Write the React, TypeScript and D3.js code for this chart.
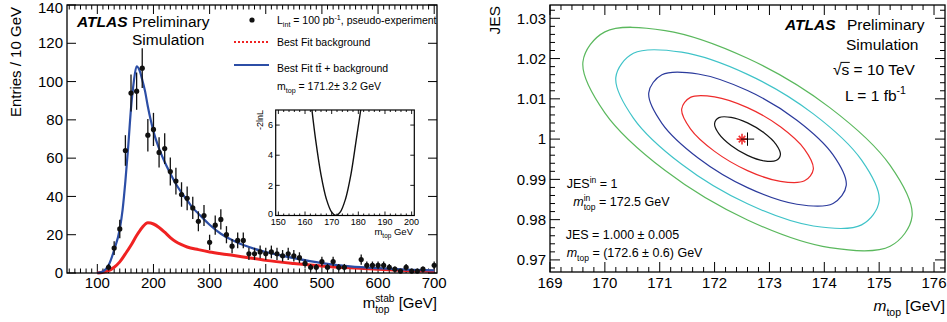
import React, { useRef, useEffect } from "react";
import * as d3 from "d3";

const W = 947;
const H = 322;
const FONT = "'Liberation Sans', Arial, Helvetica, sans-serif";

// ---- left panel: pseudo-experiment m_top^stab distribution
const binCenters = [120, 130, 140, 150, 160, 170, 180, 190, 200, 210, 220, 230, 240, 250, 260, 270, 280, 290, 300, 310, 320, 330, 340, 350, 360, 370, 380, 390, 400, 410, 420, 430, 440, 450, 460, 470, 480, 490, 500, 510, 520, 530, 540, 570, 580, 590, 600, 610, 620, 630, 640, 650, 660, 670, 680, 700];
const binCounts = [3, 13, 23, 64, 94, 95, 107, 72, 75, 63, 65, 53, 48, 41, 39, 34, 27, 30, 16, 25, 28, 20, 14, 17, 17, 10, 10, 11, 10, 11, 10, 9, 10, 9, 8, 5, 3, 3, 6, 3, 6, 3, 3, 7, 4, 4, 4, 4, 3, 2, 1, 3, 1, 1, 2, 4];

const totalFitMass = [100, 110, 120, 130, 140, 145, 150, 155, 160, 165, 170, 175, 180, 185, 190, 195, 200, 210, 220, 230, 240, 250, 260, 270, 280, 290, 300, 320, 340, 360, 380, 400, 420, 450, 500, 550, 600, 650, 700];
const totalFitEntries = [0, 0.8, 4, 12, 23, 33, 48, 66, 86, 100, 108, 106, 101, 95, 87, 80, 74, 65, 58, 52, 46.5, 42, 38, 34, 31, 28, 25.2, 20.5, 17.2, 14.6, 12.6, 11, 9.6, 7.8, 5.2, 3.5, 2.5, 1.8, 1.4];

const bgFitMass = [100, 110, 120, 130, 140, 150, 160, 170, 180, 190, 200, 210, 220, 230, 240, 250, 260, 280, 300, 330, 360, 400, 450, 500, 550, 600, 650, 700];
const bgFitEntries = [0, 0.4, 1.2, 3, 5.8, 10, 14.5, 19.6, 23.8, 26.2, 25.6, 23.8, 21.3, 18.5, 16.3, 14.8, 13.6, 12.2, 11, 9.7, 8.4, 6.6, 5, 3.7, 2.7, 1.9, 1.3, 0.9];

const massTicks = [100, 200, 300, 400, 500, 600, 700];
const entriesTicks = [0, 20, 40, 60, 80, 100, 120, 140];

// ---- inset: likelihood scan
const scanMass = [162.6, 164, 166, 168, 170, 171.6, 173.2, 175.2, 177.2, 179.2, 180.9];
const scanNll = [7.0, 5.0, 2.7, 1.1, 0.22, 0, 0.22, 1.1, 2.7, 5.0, 7.0];
const scanMassTicks = [150, 160, 170, 180, 190, 200];
const scanNllTicks = [0, 2, 4, 6];

// ---- right panel: JES vs m_top contours (inner to outer)
const contourColors = ["#151515", "#ee2b2b", "#2b3a9c", "#3fc3c8", "#5ab85d"];
const contour1Mass = [173.2, 173.12, 172.9, 172.6, 172.3, 172.08, 172.0, 172.08, 172.3, 172.6, 172.9, 173.12];
const contour1Jes = [0.99616, 0.99467, 0.9946, 0.99597, 0.99843, 1.00131, 1.00384, 1.00533, 1.0054, 1.00403, 1.00157, 0.99869];
const contour2Mass = [173.8, 173.64, 173.2, 172.6, 172.0, 171.56, 171.4, 171.56, 172.0, 172.6, 173.2, 173.64];
const contour2Jes = [0.99255, 0.98964, 0.9895, 0.99218, 0.99695, 1.00254, 1.00745, 1.01036, 1.0105, 1.00782, 1.00305, 0.99746];
const contour3Mass = [174.4, 174.16, 173.5, 172.6, 171.7, 171.04, 170.8, 171.04, 171.7, 172.6, 173.5, 174.16];
const contour3Jes = [0.98852, 0.98403, 0.98383, 0.98795, 0.99531, 1.00392, 1.01148, 1.01597, 1.01617, 1.01205, 1.00469, 0.99608];
const contour4Mass = [175.0, 174.68, 173.8, 172.6, 171.4, 170.52, 170.2, 170.52, 171.4, 172.6, 173.8, 174.68];
const contour4Jes = [0.98468, 0.9787, 0.97842, 0.98393, 0.99374, 1.00523, 1.01532, 1.0213, 1.02158, 1.01607, 1.00626, 0.99477];
const contour5Mass = [175.6, 175.2, 174.1, 172.6, 171.1, 170.0, 169.6, 170.0, 171.1, 172.6, 174.1, 175.2];
const contour5Jes = [0.98086, 0.97338, 0.97304, 0.97992, 0.99218, 1.00653, 1.01914, 1.02662, 1.02696, 1.02008, 1.00782, 0.99347];
const inputPoint = [172.5, 1.0];
const fittedPoint = [172.6, 1.0];

const topMassTicks = [169, 170, 171, 172, 173, 174, 175, 176];
const jesTicks = [0.97, 0.98, 0.99, 1.0, 1.01, 1.02, 1.03];
const jesTickLabels = ["0.97", "0.98", "0.99", "1", "1.01", "1.02", "1.03"];

// text with sub/superscripts; parts are strings or {sub, sup, it}
function rich(parent, x, y, size, parts, anchor = "start") {
  const text = parent
    .append("text")
    .attr("x", x)
    .attr("y", y)
    .attr("font-size", size)
    .attr("font-family", FONT)
    .attr("text-anchor", anchor)
    .style("white-space", "pre");
  const small = size * 0.68;
  let base = 0;
  let pending = 0;
  const put = (s, off, fs, dx = 0) => {
    const ts = text.append("tspan").text(s).attr("dy", off - base).attr("font-size", fs);
    if (dx + pending !== 0) ts.attr("dx", dx + pending);
    pending = 0;
    base = off;
    return ts;
  };
  parts.forEach((p) => {
    if (typeof p === "string") put(p, 0, size);
    else if (p.it) put(p.it, 0, size).attr("font-style", "italic");
    else if (p.sub && p.sup) {
      const a = put(p.sup, -size * 0.4, small);
      const wa = a.node().getComputedTextLength();
      const b = put(p.sub, size * 0.32, small, -wa);
      const wb = b.node().getComputedTextLength();
      pending = Math.max(0, wa - wb);
    } else if (p.sub) put(p.sub, size * 0.32, small);
    else if (p.sup) put(p.sup, -size * 0.4, small);
  });
  return text;
}

function frameTicks(g, f, xs, xvals, xlen, ys, yvals, ylen) {
  xvals.forEach((v) => {
    const x = xs(v);
    g.append("line").attr("x1", x).attr("x2", x).attr("y1", f.y1).attr("y2", f.y1 - xlen);
    g.append("line").attr("x1", x).attr("x2", x).attr("y1", f.y0).attr("y2", f.y0 + xlen);
  });
  yvals.forEach((v) => {
    const y = ys(v);
    g.append("line").attr("x1", f.x0).attr("x2", f.x0 + ylen).attr("y1", y).attr("y2", y);
    g.append("line").attr("x1", f.x1).attr("x2", f.x1 - ylen).attr("y1", y).attr("y2", y);
  });
}

const App = () => {
  const ref = useRef(null);

  useEffect(() => {
    const svg = d3.select(ref.current);
    svg.selectAll("*").remove();

    // ================= LEFT PANEL =================
    const L = { x0: 67, x1: 437, y0: 5, y1: 273 };
    const lx = d3.scaleLinear().domain([46, 705]).range([L.x0, L.x1]);
    const ly = d3.scaleLinear().domain([0, 140]).range([L.y1, L.y0]);
    const left = svg.append("g");

    const lt = left.append("g").attr("stroke", "#000").attr("stroke-width", 1);
    frameTicks(lt, L, lx, massTicks, 9, ly, entriesTicks, 9);
    const minorMass = d3.range(50, 701, 10).filter((v) => v % 100 !== 0);
    frameTicks(lt, L, lx, minorMass, 4.5, ly, [], 0);

    left.append("g").selectAll("text").data(massTicks).join("text")
      .attr("x", (d) => lx(d)).attr("y", 288).attr("text-anchor", "middle")
      .attr("font-family", FONT).attr("font-size", 15).text((d) => d);
    left.append("g").selectAll("text").data(entriesTicks).join("text")
      .attr("x", 63).attr("y", (d) => Math.max(ly(d) + 5.2, 13)).attr("text-anchor", "end")
      .attr("font-family", FONT).attr("font-size", 15).text((d) => d);

    left.append("text")
      .attr("transform", "translate(20.5,7) rotate(-90)")
      .attr("text-anchor", "end").attr("font-family", FONT).attr("font-size", 15)
      .text("Entries / 10 GeV");
    rich(left, 437, 308, 15, ["m", { sup: "stab", sub: "top" }, " [GeV]"], "end");

    const curve = (xsArr, ysArr) =>
      d3.line().x((i) => lx(xsArr[i])).y((i) => ly(ysArr[i])).curve(d3.curveMonotoneX)(d3.range(xsArr.length));

    left.append("path").attr("d", curve(bgFitMass, bgFitEntries))
      .attr("fill", "none").attr("stroke", "#f02222").attr("stroke-width", 3);
    left.append("path").attr("d", curve(totalFitMass, totalFitEntries))
      .attr("fill", "none").attr("stroke", "#2c4ea6").attr("stroke-width", 2.2);

    const pts = left.append("g");
    binCenters.forEach((m, i) => {
      const n = binCounts[i];
      const e = Math.sqrt(n);
      pts.append("line").attr("x1", lx(m)).attr("x2", lx(m))
        .attr("y1", ly(Math.min(140, n + e))).attr("y2", ly(Math.max(0, n - e)))
        .attr("stroke", "#111").attr("stroke-width", 1.3);
      pts.append("circle").attr("cx", lx(m)).attr("cy", ly(n)).attr("r", 2.6).attr("fill", "#111");
    });

    left.append("rect").attr("x", L.x0).attr("y", L.y0).attr("width", L.x1 - L.x0).attr("height", L.y1 - L.y0)
      .attr("fill", "none").attr("stroke", "#000").attr("stroke-width", 1.3);

    // ATLAS label
    left.append("text").attr("x", 77).attr("y", 27).attr("font-family", FONT).attr("font-size", 15.5)
      .attr("font-weight", "bold").attr("font-style", "italic").text("ATLAS");
    left.append("text").attr("x", 132).attr("y", 27).attr("font-family", FONT).attr("font-size", 15.5).text("Preliminary");
    left.append("text").attr("x", 132).attr("y", 45).attr("font-family", FONT).attr("font-size", 15.5).text("Simulation");

    // legend
    const lg = left.append("g");
    lg.append("circle").attr("cx", 252).attr("cy", 20).attr("r", 2.6).attr("fill", "#111");
    rich(lg, 277, 24, 10.5, ["L", { sub: "int" }, " = 100 pb", { sup: "-1" }, ", pseudo-experiment"]);
    lg.append("line").attr("x1", 234).attr("x2", 269).attr("y1", 42).attr("y2", 42)
      .attr("stroke", "#f02222").attr("stroke-width", 2).attr("stroke-dasharray", "2,2");
    rich(lg, 277, 46, 10.5, ["Best Fit background"]);
    lg.append("line").attr("x1", 234).attr("x2", 269).attr("y1", 65).attr("y2", 65)
      .attr("stroke", "#2c4ea6").attr("stroke-width", 2);
    rich(lg, 277, 72, 10.5, ["Best Fit t", "t\u0304", " + background"]);
    rich(lg, 277, 90, 10.5, ["m", { sub: "top" }, " = 171.2\u00b1 3.2 GeV"]);

    // ================= INSET =================
    const I = { x0: 275.7, x1: 414.3, y0: 110, y1: 215.5 };
    const ix = d3.scaleLinear().domain([149, 201]).range([I.x0, I.x1]);
    const iy = d3.scaleLinear().domain([0, 7]).range([I.y1, I.y0]);
    const inset = svg.append("g");
    inset.append("rect").attr("x", I.x0).attr("y", I.y0).attr("width", I.x1 - I.x0).attr("height", I.y1 - I.y0)
      .attr("fill", "#fff");
    const it = inset.append("g").attr("stroke", "#000").attr("stroke-width", 0.9);
    frameTicks(it, I, ix, scanMassTicks, 4, iy, scanNllTicks, 4);
    frameTicks(it, I, ix, d3.range(152, 200, 2).filter((v) => v % 10 !== 0), 2, iy, [], 0);

    inset.append("clipPath").attr("id", "insetClip").append("rect")
      .attr("x", I.x0).attr("y", I.y0).attr("width", I.x1 - I.x0).attr("height", I.y1 - I.y0);
    inset.append("path")
      .attr("d", d3.line().x((i) => ix(scanMass[i])).y((i) => iy(scanNll[i])).curve(d3.curveCatmullRom)(d3.range(scanMass.length)))
      .attr("clip-path", "url(#insetClip)")
      .attr("fill", "none").attr("stroke", "#111").attr("stroke-width", 1.4);
    inset.append("rect").attr("x", I.x0).attr("y", I.y0).attr("width", I.x1 - I.x0).attr("height", I.y1 - I.y0)
      .attr("fill", "none").attr("stroke", "#000").attr("stroke-width", 1.2);

    inset.append("g").selectAll("text").data(scanMassTicks).join("text")
      .attr("x", (d) => ix(d)).attr("y", 225).attr("text-anchor", "middle")
      .attr("font-family", FONT).attr("font-size", 9).text((d) => d);
    inset.append("g").selectAll("text").data(scanNllTicks).join("text")
      .attr("x", 273).attr("y", (d) => iy(d) + (d === 0 ? 1.5 : 3.2)).attr("text-anchor", "end")
      .attr("font-family", FONT).attr("font-size", 9).text((d) => d);
    rich(inset, 413, 234.5, 9.5, ["m", { sub: "top" }, " GeV"], "end");
    inset.append("text").attr("transform", "translate(263,110) rotate(-90)")
      .attr("text-anchor", "end").attr("font-family", FONT).attr("font-size", 9).text("-2lnL");

    // ================= RIGHT PANEL =================
    const R = { x0: 550, x1: 945, y0: 5, y1: 272 };
    const rx = d3.scaleLinear().domain([169, 176.2]).range([R.x0, R.x1]);
    const ry = d3.scaleLinear().domain([0.967, 1.0333]).range([R.y1, R.y0]);
    const right = svg.append("g");

    const rt = right.append("g").attr("stroke", "#000").attr("stroke-width", 1);
    frameTicks(rt, R, rx, topMassTicks, 10, ry, jesTicks, 10);
    const minorM = d3.range(169.2, 176.2, 0.2).filter((v) => Math.abs(v - Math.round(v)) > 0.05);
    const minorJ = d3.range(0.968, 1.0333, 0.002).filter((v) => Math.abs(v * 100 - Math.round(v * 100)) > 0.05);
    frameTicks(rt, R, rx, minorM, 5, ry, minorJ, 5);

    right.append("g").selectAll("text").data(topMassTicks).join("text")
      .attr("x", (d) => rx(d)).attr("y", 288).attr("text-anchor", "middle")
      .attr("font-family", FONT).attr("font-size", 15).text((d) => d);
    right.append("g").selectAll("text").data(jesTicks).join("text")
      .attr("x", 546).attr("y", (d) => ry(d) + 5.3).attr("text-anchor", "end")
      .attr("font-family", FONT).attr("font-size", 15).text((d, i) => jesTickLabels[i]);

    right.append("text").attr("transform", "translate(500,6) rotate(-90)")
      .attr("text-anchor", "end").attr("font-family", FONT).attr("font-size", 15.5).text("JES");
    rich(right, 945, 311, 15.5, [{ it: "m" }, { sub: "top" }, " [GeV]"], "end");

    const contours = [
      [contour1Mass, contour1Jes],
      [contour2Mass, contour2Jes],
      [contour3Mass, contour3Jes],
      [contour4Mass, contour4Jes],
      [contour5Mass, contour5Jes],
    ];
    contours.forEach(([ms, js], k) => {
      right.append("path")
        .attr("d", d3.line().x((i) => rx(ms[i])).y((i) => ry(js[i])).curve(d3.curveCatmullRomClosed.alpha(0.5))(d3.range(ms.length)))
        .attr("fill", "none").attr("stroke", contourColors[k]).attr("stroke-width", 1.2);
    });

    const star = right.append("g")
      .attr("transform", `translate(${rx(inputPoint[0])},${ry(inputPoint[1])})`)
      .attr("stroke", "#f03030").attr("stroke-width", 1.6).attr("fill", "none");
    star.append("path").attr("d", d3.symbol(d3.symbolPlus, 40)());
    star.append("path").attr("d", d3.symbol(d3.symbolTimes, 30)());
    right.append("path")
      .attr("transform", `translate(${rx(fittedPoint[0])},${ry(fittedPoint[1])})`)
      .attr("d", d3.symbol(d3.symbolPlus, 60)())
      .attr("stroke", "#000").attr("stroke-width", 1).attr("fill", "none");

    right.append("rect").attr("x", R.x0).attr("y", R.y0).attr("width", R.x1 - R.x0).attr("height", R.y1 - R.y0)
      .attr("fill", "none").attr("stroke", "#000").attr("stroke-width", 1.3);

    right.append("text").attr("x", 785).attr("y", 30).attr("font-family", FONT).attr("font-size", 15.5)
      .attr("font-weight", "bold").attr("font-style", "italic").text("ATLAS");
    right.append("text").attr("x", 847).attr("y", 30).attr("font-family", FONT).attr("font-size", 15.5).text("Preliminary");
    right.append("text").attr("x", 846).attr("y", 50).attr("font-family", FONT).attr("font-size", 15.5).text("Simulation");
    const rs = rich(right, 833, 75, 15.5, ["\u221a", "s = 10 TeV"]);
    const rsNode = rs.node();
    const sx0 = rsNode.getStartPositionOfChar(1).x;
    const sx1 = rsNode.getEndPositionOfChar(1).x;
    right.append("line").attr("x1", sx0 - 1).attr("x2", sx1 + 0.5).attr("y1", 75 - 12.6).attr("y2", 75 - 12.6)
      .attr("stroke", "#000").attr("stroke-width", 1);
    rich(right, 845, 100.5, 15.5, ["L = 1 fb", { sup: "-1" }]);

    rich(right, 566.7, 188.3, 12.5, ["JES", { sup: "in" }, " = 1"]);
    rich(right, 573.3, 206, 12.5, [{ it: "m" }, { sup: "in", sub: "top" }, " = 172.5 GeV"]);
    rich(right, 565.7, 239, 12.5, ["JES = 1.000 \u00b1 0.005"]);
    rich(right, 566.7, 256.7, 12.5, [{ it: "m" }, { sub: "top" }, " = (172.6 \u00b1 0.6) GeV"]);
  }, []);

  return (
    <svg
      ref={ref}
      width={W}
      height={H}
      style={{ position: "absolute", left: 0, top: 0, background: "#fff" }}
    />
  );
};

export default App;
